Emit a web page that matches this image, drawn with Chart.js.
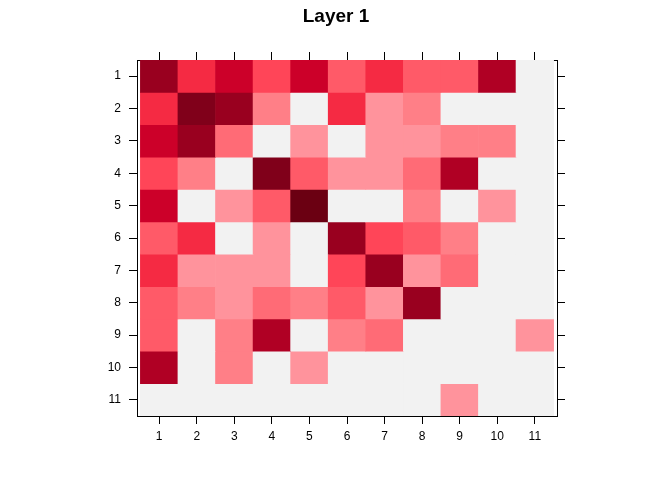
<!DOCTYPE html>
<html>
<head>
<meta charset="utf-8">
<script src="https://cdn.jsdelivr.net/npm/chart.js@4/dist/chart.umd.min.js"></script>
<style>
  html, body { margin: 0; padding: 0; background: #ffffff; }
  #wrap { width: 672px; height: 480px; position: relative; }
</style>
</head>
<body>
<div id="wrap"><canvas id="c"></canvas></div>
<script>
// ---- data ----
const titleText = 'Layer 1';
const columns = [1, 2, 3, 4, 5, 6, 7, 8, 9, 10, 11];
const rows = [1, 2, 3, 4, 5, 6, 7, 8, 9, 10, 11];
const xTickLabels = ['1','2','3','4','5','6','7','8','9','10','11'];
const yTickLabels = ['1','2','3','4','5','6','7','8','9','10','11'];
// colour level of each cell (0 = empty), one array per row
const row1  = [9, 6, 7, 5, 7, 4, 6, 4, 4, 8, 0];
const row2  = [6, 10, 9, 2, 0, 6, 1, 2, 0, 0, 0];
const row3  = [7, 9, 3, 0, 1, 0, 1, 1, 2, 2, 0];
const row4  = [5, 2, 0, 10, 4, 1, 1, 3, 8, 0, 0];
const row5  = [7, 0, 1, 4, 11, 0, 0, 2, 0, 1, 0];
const row6  = [4, 6, 0, 1, 0, 9, 5, 4, 2, 0, 0];
const row7  = [6, 1, 1, 1, 0, 5, 9, 1, 3, 0, 0];
const row8  = [4, 2, 1, 3, 2, 4, 1, 9, 0, 0, 0];
const row9  = [4, 0, 2, 8, 0, 2, 3, 0, 0, 0, 1];
const row10 = [8, 0, 2, 0, 1, 0, 0, 0, 0, 0, 0];
const row11 = [0, 0, 0, 0, 0, 0, 0, 0, 1, 0, 0];
const levelColors = ['#F2F2F2', '#FF939C', '#FF7F87', '#FF6B76', '#FF5A68', '#FF4558',
                     '#F52A43', '#CC0029', '#B00024', '#99001F', '#80001A', '#6B0012'];
const grid = [row1, row2, row3, row4, row5, row6, row7, row8, row9, row10, row11];

// ---- build datasets ----
const datasets = rows.map((r, ri) => ({
  label: 'row ' + r,
  data: columns.map(c => ({ x: c, y: [r - 0.5, r + 0.5] })),
  backgroundColor: grid[ri].map(l => levelColors[l]),
  borderWidth: 0,
  categoryPercentage: 1,
  barPercentage: 1,
  grouped: false
}));

const FONT = 'Liberation Sans, Arial, Helvetica, sans-serif';
const xMin = 0.41, xMax = 11.59;
const yMin = 0.5, yMax = 11.5;

function fixedTicks(values) {
  return function (scale) { scale.ticks = values.map(v => ({ value: v })); };
}
function labelFrom(arr, vals) {
  return function (value) { const i = vals.indexOf(value); return i >= 0 ? arr[i] : ''; };
}

new Chart(document.getElementById('c'), {
  type: 'bar',
  data: { datasets },
  options: {
    responsive: true,
    maintainAspectRatio: false,
    animation: false,
    layout: { padding: 0 },
    plugins: {
      legend: { display: false },
      tooltip: { enabled: false },
      title: {
        display: true,
        text: titleText,
        color: '#000000',
        font: { family: FONT, size: 19, weight: 'bold' },
        padding: { top: 5, bottom: 0 }
      }
    },
    scales: {
      x: {
        type: 'linear', position: 'bottom', min: xMin, max: xMax, offset: false,
        afterBuildTicks: fixedTicks(columns),
        afterFit: s => { s.height = 64; },
        grid: { offset: false, drawOnChartArea: false, drawTicks: true, tickLength: 8, color: '#000000' },
        border: { display: true, color: '#000000', width: 1 },
        ticks: { color: '#000000', font: { family: FONT, size: 12 }, padding: 5, maxRotation: 0,
                 callback: labelFrom(xTickLabels, columns) }
      },
      x2: {
        type: 'linear', position: 'top', min: xMin, max: xMax, display: true, offset: false,
        afterBuildTicks: fixedTicks(columns),
        afterFit: s => { s.height = 32.2; },
        grid: { offset: false, drawOnChartArea: false, drawTicks: true, tickLength: 8, color: '#000000' },
        border: { display: true, color: '#000000', width: 1 },
        ticks: { display: false }
      },
      y: {
        type: 'linear', position: 'left', reverse: true, min: yMin, max: yMax, offset: false,
        afterBuildTicks: fixedTicks(rows),
        afterFit: s => { s.width = 137; },
        grid: { offset: false, drawOnChartArea: false, drawTicks: true, tickLength: 8, color: '#000000' },
        border: { display: true, color: '#000000', width: 1 },
        ticks: { color: '#000000', font: { family: FONT, size: 12 }, padding: 8,
                 callback: labelFrom(yTickLabels, rows) }
      },
      y2: {
        type: 'linear', position: 'right', reverse: true, min: yMin, max: yMax, display: true, offset: false,
        afterBuildTicks: fixedTicks(rows),
        afterFit: s => { s.width = 115; },
        grid: { offset: false, drawOnChartArea: false, drawTicks: true, tickLength: 8, color: '#000000' },
        border: { display: true, color: '#000000', width: 1 },
        ticks: { display: false }
      }
    }
  }
});
</script>
</body>
</html>
